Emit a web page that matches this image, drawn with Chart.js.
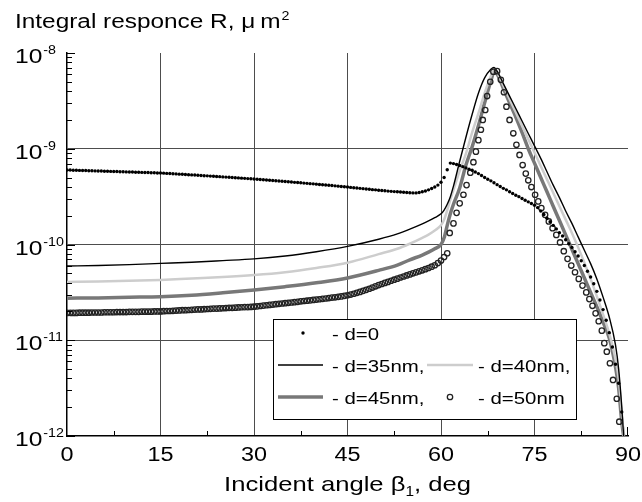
<!DOCTYPE html>
<html lang="en">
<head>
<meta charset="UTF-8">
<title>Integral responce R</title>
<script src="https://cdn.jsdelivr.net/npm/chart.js"></script>
<style>
    html, body {
        margin: 0;
        padding: 0;
        background: #fff;
    }
    #wrap {
        width: 642px;
        height: 502px;
    }
</style>
</head>
<body>
<div id="wrap"><canvas id="respChart" width="642" height="502"></canvas></div>
<script>
    // axis ticks
    const decadeTicks = [1e-12, 1e-11, 1e-10, 1e-9, 1e-8];
    const decadeExp = ['-12', '-11', '-10', '-9', '-8'];
    const angleTicks = [0, 15, 30, 45, 60, 75, 90];

    // d=0 is sampled every 0.5 deg from 0 to 89
    const angleDots = [];
    for (let a = 0; a <= 89; a += 0.5) angleDots.push(a);

    const resp0 = [
        6.00e-10, 5.99e-10, 5.97e-10, 5.96e-10, 5.94e-10, 5.93e-10, 5.92e-10, 5.90e-10, 5.89e-10, 5.87e-10,
        5.86e-10, 5.85e-10, 5.83e-10, 5.82e-10, 5.80e-10, 5.79e-10, 5.78e-10, 5.76e-10, 5.75e-10, 5.73e-10,
        5.72e-10, 5.71e-10, 5.69e-10, 5.68e-10, 5.66e-10, 5.65e-10, 5.64e-10, 5.62e-10, 5.61e-10, 5.59e-10,
        5.58e-10,
        5.56e-10, 5.53e-10, 5.51e-10, 5.48e-10, 5.46e-10, 5.43e-10, 5.41e-10, 5.38e-10, 5.36e-10, 5.33e-10,
        5.31e-10, 5.28e-10, 5.26e-10, 5.23e-10, 5.21e-10, 5.18e-10, 5.16e-10, 5.13e-10, 5.11e-10, 5.08e-10,
        5.06e-10, 5.03e-10, 5.01e-10, 4.98e-10, 4.96e-10, 4.93e-10, 4.91e-10, 4.88e-10, 4.86e-10, 4.83e-10,
        4.80e-10, 4.77e-10, 4.75e-10, 4.72e-10, 4.69e-10, 4.66e-10, 4.63e-10, 4.60e-10, 4.58e-10, 4.55e-10,
        4.52e-10, 4.49e-10, 4.46e-10, 4.44e-10, 4.41e-10, 4.38e-10, 4.35e-10, 4.32e-10, 4.30e-10, 4.27e-10,
        4.24e-10, 4.21e-10, 4.18e-10, 4.16e-10, 4.13e-10, 4.10e-10, 4.07e-10, 4.04e-10, 4.01e-10, 3.98e-10,
        3.95e-10, 3.92e-10, 3.89e-10, 3.86e-10, 3.83e-10, 3.80e-10, 3.77e-10, 3.74e-10, 3.72e-10, 3.69e-10,
        3.66e-10, 3.64e-10, 3.61e-10, 3.59e-10, 3.57e-10, 3.55e-10, 3.53e-10, 3.51e-10, 3.49e-10, 3.47e-10,
        3.46e-10, 3.46e-10, 3.49e-10, 3.55e-10, 3.62e-10, 3.72e-10, 3.85e-10, 3.98e-10, 4.17e-10, 4.47e-10,
        5.01e-10,
        6.03e-10, 7.08e-10, 7.00e-10, 6.84e-10, 6.68e-10, 6.50e-10, 6.31e-10, 6.12e-10, 5.96e-10, 5.71e-10,
        5.50e-10, 5.25e-10, 5.01e-10, 4.81e-10, 4.62e-10, 4.42e-10, 4.22e-10, 4.04e-10, 3.86e-10,
        3.72e-10, 3.55e-10, 3.41e-10, 3.27e-10, 3.16e-10, 3.02e-10, 2.90e-10, 2.79e-10, 2.68e-10, 2.57e-10,
        2.43e-10, 2.24e-10, 2.06e-10, 1.88e-10, 1.73e-10, 1.585e-10, 1.455e-10, 1.33e-10, 1.225e-10, 1.12e-10,
        1.02e-10, 9.33e-11, 8.41e-11, 7.59e-11, 6.76e-11, 6.03e-11, 5.25e-11, 4.57e-11, 3.89e-11, 3.24e-11,
        2.63e-11, 2.09e-11, 1.62e-11, 1.20e-11, 8.51e-12, 5.62e-12, 3.55e-12, 1.78e-12
    ];

    // d=50nm: flat branch on the same 0.5 deg grid (0..61), then the peak
    const resp50Flat = [
        1.93e-11, 1.93e-11, 1.93e-11, 1.93e-11, 1.94e-11, 1.94e-11, 1.94e-11, 1.94e-11, 1.95e-11, 1.95e-11,
        1.95e-11, 1.95e-11, 1.96e-11, 1.96e-11, 1.96e-11, 1.96e-11, 1.97e-11, 1.97e-11, 1.97e-11, 1.97e-11,
        1.98e-11, 1.98e-11, 1.98e-11, 1.98e-11, 1.99e-11, 1.99e-11, 1.99e-11, 1.99e-11, 2.00e-11, 2.00e-11,
        2.00e-11,
        2.01e-11, 2.02e-11, 2.02e-11, 2.03e-11, 2.04e-11, 2.05e-11, 2.06e-11, 2.06e-11, 2.07e-11, 2.08e-11,
        2.09e-11, 2.10e-11, 2.10e-11, 2.11e-11, 2.12e-11, 2.13e-11, 2.14e-11, 2.14e-11, 2.15e-11, 2.16e-11,
        2.17e-11, 2.18e-11, 2.18e-11, 2.19e-11, 2.20e-11, 2.21e-11, 2.22e-11, 2.22e-11, 2.23e-11, 2.24e-11,
        2.26e-11, 2.28e-11, 2.30e-11, 2.32e-11, 2.34e-11, 2.36e-11, 2.38e-11, 2.40e-11, 2.42e-11, 2.44e-11,
        2.46e-11, 2.48e-11, 2.50e-11, 2.52e-11, 2.55e-11, 2.57e-11, 2.59e-11, 2.61e-11, 2.64e-11, 2.66e-11,
        2.68e-11, 2.71e-11, 2.73e-11, 2.76e-11, 2.79e-11, 2.81e-11, 2.84e-11, 2.87e-11, 2.91e-11, 2.95e-11,
        3.00e-11, 3.06e-11, 3.13e-11, 3.20e-11, 3.28e-11, 3.36e-11, 3.45e-11, 3.55e-11, 3.66e-11, 3.77e-11,
        3.87e-11, 3.97e-11, 4.07e-11, 4.18e-11, 4.29e-11, 4.40e-11, 4.52e-11, 4.63e-11, 4.75e-11, 4.87e-11,
        5.00e-11, 5.12e-11, 5.25e-11, 5.38e-11, 5.52e-11, 5.68e-11, 5.86e-11, 6.07e-11, 6.40e-11, 6.80e-11,
        7.40e-11, 8.10e-11
    ];
    const angle50Peak = [
        61.4, 62.0, 62.5, 63.0, 63.6, 64.1, 64.7, 65.2, 65.6, 66.0, 66.4, 66.7, 67.1, 67.4, 67.9, 68.4,
        69.0, 69.6, 70.1, 70.5, 71.0, 71.6, 72.1, 72.6, 73.1, 73.6, 74.0, 74.5, 75.1, 75.6, 76.1, 76.7,
        77.3, 77.9, 78.5, 79.1, 79.7, 80.3, 80.9, 81.5, 82.1, 82.7, 83.3, 83.8, 84.3, 84.8, 85.3, 85.8,
        86.2, 86.6, 87.1, 87.6, 88.2, 88.6
    ];
    const resp50Peak = [
        1.32e-10, 1.66e-10, 2.14e-10, 2.69e-10, 3.31e-10, 4.17e-10, 5.62e-10, 7.24e-10, 9.33e-10, 1.23e-9,
        1.58e-9, 2.00e-9, 2.54e-9, 3.55e-9, 5.01e-9, 6.38e-9,
        6.46e-9, 5.25e-9, 3.89e-9, 2.75e-9, 2.00e-9, 1.45e-9, 1.10e-9, 8.61e-10, 6.76e-10, 5.50e-10,
        4.68e-10, 3.98e-10, 3.31e-10, 2.82e-10, 2.40e-10, 2.04e-10, 1.74e-10, 1.48e-10, 1.26e-10, 1.05e-10,
        8.51e-11, 7.08e-11, 6.03e-11, 5.13e-11, 4.37e-11, 3.72e-11, 3.16e-11, 2.69e-11, 2.29e-11, 1.91e-11,
        1.58e-11, 1.26e-11, 9.33e-12, 7.59e-12, 5.75e-12, 3.85e-12, 2.45e-12, 1.41e-12
    ];

    // solid curves d=35, 40, 45 nm
    const angleLine = [
        0, 5, 10, 15, 20, 25, 30, 35, 40, 45, 50, 53, 55, 57, 58, 59, 60, 60.5, 61, 61.5, 62,
        63, 64, 65, 66, 67, 68, 68.5, 69, 70, 71, 72, 73, 74, 75, 76, 77, 78, 79, 80,
        81, 82, 83, 84, 85, 86, 87, 88, 88.5, 89, 89.3
    ];
    const resp35 = [
        5.96e-11, 6.03e-11, 6.17e-11, 6.35e-11, 6.53e-11, 6.79e-11, 7.08e-11, 7.59e-11, 8.41e-11, 9.55e-11,
        1.135e-10, 1.29e-10, 1.445e-10, 1.64e-10, 1.76e-10, 1.905e-10, 2.09e-10, 2.29e-10, 2.63e-10, 3.16e-10,
        4.07e-10, 7.41e-10, 1.32e-9, 2.29e-9, 3.80e-9, 5.50e-9, 6.76e-9, 7.08e-9, 6.46e-9, 4.79e-9,
        3.55e-9, 2.63e-9, 1.95e-9, 1.445e-9, 1.07e-9, 7.94e-10, 5.75e-10, 4.17e-10, 3.09e-10, 2.24e-10,
        1.66e-10, 1.20e-10, 8.71e-11, 6.31e-11, 4.37e-11, 2.82e-11, 1.74e-11, 8.9e-12, 5.0e-12, 2.0e-12,
        1.0e-12
    ];
    const resp40 = [
        4.07e-11, 4.10e-11, 4.17e-11, 4.27e-11, 4.42e-11, 4.57e-11, 4.79e-11, 5.13e-11, 5.69e-11, 6.46e-11,
        7.94e-11, 9.02e-11, 1.02e-10, 1.175e-10, 1.27e-10, 1.40e-10, 1.585e-10, 1.82e-10, 2.29e-10, 2.95e-10,
        3.72e-10, 5.89e-10, 8.91e-10, 1.48e-9, 2.34e-9, 3.80e-9, 5.75e-9, 6.61e-9, 6.31e-9, 4.57e-9,
        3.31e-9, 2.40e-9, 1.74e-9, 1.26e-9, 9.12e-10, 6.61e-10, 4.79e-10, 3.47e-10, 2.51e-10, 1.82e-10,
        1.32e-10, 9.33e-11, 6.46e-11, 4.37e-11, 2.88e-11, 1.86e-11, 1.175e-11, 6.31e-12, 3.98e-12, 1.78e-12,
        1.0e-12
    ];
    const resp45 = [
        2.75e-11, 2.77e-11, 2.81e-11, 2.85e-11, 2.95e-11, 3.13e-11, 3.35e-11, 3.63e-11, 3.98e-11, 4.47e-11,
        5.37e-11, 6.10e-11, 6.92e-11, 7.76e-11, 8.32e-11, 9.02e-11, 1.0e-10, 1.175e-10, 1.585e-10, 2.09e-10,
        2.63e-10, 3.89e-10, 6.76e-10, 1.05e-9, 1.74e-9, 3.02e-9, 5.13e-9, 6.31e-9, 6.03e-9, 4.27e-9,
        3.02e-9, 2.14e-9, 1.48e-9, 1.0e-9, 7.08e-10, 5.01e-10, 3.55e-10, 2.51e-10, 1.78e-10, 1.26e-10,
        8.91e-11, 6.31e-11, 4.47e-11, 3.16e-11, 2.24e-11, 1.55e-11, 1.05e-11, 5.25e-12, 3.16e-12, 1.41e-12,
        1.0e-12
    ];

    function toPoints(xs, ys) {
        return ys.map((v, i) => ({ x: xs[i], y: v }));
    }

    const FONT = '"Liberation Sans", Arial, Helvetica, sans-serif';

    // text is drawn a bit wider than the font's natural width
    function wideText(ctx, text, x, y, size, sx, align) {
        ctx.save();
        ctx.font = size + 'px ' + FONT;
        const w = ctx.measureText(text).width * sx;
        let left = x;
        if (align === 'center') left = x - w / 2;
        if (align === 'right') left = x - w;
        ctx.translate(left, y);
        ctx.scale(sx, 1);
        ctx.textAlign = 'left';
        ctx.textBaseline = 'alphabetic';
        ctx.fillText(text, 0, 0);
        ctx.restore();
        return w;
    }
    function textWidth(ctx, text, size, sx) {
        ctx.save();
        ctx.font = size + 'px ' + FONT;
        const w = ctx.measureText(text).width * sx;
        ctx.restore();
        return w;
    }

    const axisDecor = {
        id: 'axisDecor',
        afterDraw(chart) {
            const { ctx, chartArea } = chart;
            const xs = chart.scales.x, ys = chart.scales.y;
            ctx.save();
            ctx.fillStyle = '#000';
            ctx.strokeStyle = '#000';
            ctx.lineWidth = 1;

            // inward ticks on the log axis
            ctx.beginPath();
            decadeTicks.forEach((d, i) => {
                const yd = Math.round(ys.getPixelForValue(d)) + 0.5;
                ctx.moveTo(chartArea.left, yd);
                ctx.lineTo(chartArea.left + 8, yd);
                if (i < decadeTicks.length - 1) {
                    for (let m = 2; m <= 9; m++) {
                        const ym = Math.round(ys.getPixelForValue(m * d)) + 0.5;
                        ctx.moveTo(chartArea.left, ym);
                        ctx.lineTo(chartArea.left + 5, ym);
                    }
                }
            });
            // inward ticks on the angle axis
            for (let a = 7.5; a < 90; a += 15) {
                const xa = Math.round(xs.getPixelForValue(a)) + 0.5;
                ctx.moveTo(xa, chartArea.bottom);
                ctx.lineTo(xa, chartArea.bottom - 5);
            }
            const x90 = Math.round(xs.getPixelForValue(90)) - 0.5;
            ctx.moveTo(x90, chartArea.bottom);
            ctx.lineTo(x90, chartArea.bottom - 9);
            ctx.stroke();

            // y tick labels 10^n
            decadeTicks.forEach((d, i) => {
                const yd = ys.getPixelForValue(d);
                const w = wideText(ctx, '10', 15, yd + 10, 20.5, 1.2, 'left');
                wideText(ctx, decadeExp[i], 15 + w + 1, yd + 1, 13, 1.1, 'left');
            });

            // x tick labels
            angleTicks.forEach(a => {
                wideText(ctx, String(a), xs.getPixelForValue(a), 461, 19.5, 1.2, 'center');
            });

            // y title
            const tw = wideText(ctx, 'Integral responce R, \u03bc\u2009m', 15, 28, 19.5, 1.25, 'left');
            wideText(ctx, '2', 15 + tw + 1, 20, 13, 1.1, 'left');

            // x title with subscript
            const p1 = 'Incident angle \u03b2', p2 = '1', p3 = ', deg';
            const w1 = textWidth(ctx, p1, 21, 1.22);
            const w2 = textWidth(ctx, p2, 14, 1.1);
            const w3 = textWidth(ctx, p3, 21, 1.22);
            let xt = (chartArea.left + chartArea.right) / 2 - (w1 + w2 + w3) / 2;
            wideText(ctx, p1, xt, 491, 21, 1.22, 'left');
            xt += w1;
            wideText(ctx, p2, xt, 496, 14, 1.1, 'left');
            xt += w2;
            wideText(ctx, p3, xt, 491, 21, 1.22, 'left');

            // legend box
            ctx.fillStyle = '#fff';
            ctx.fillRect(273, 319, 303, 100);
            ctx.strokeStyle = '#000';
            ctx.lineWidth = 1;
            ctx.strokeRect(273.5, 319.5, 303, 100);

            ctx.fillStyle = '#000';
            ctx.beginPath();
            ctx.arc(303, 333, 1.7, 0, Math.PI * 2);
            ctx.fill();
            wideText(ctx, '- d=0', 332, 340, 17, 1.2, 'left');

            ctx.lineCap = 'butt';
            ctx.strokeStyle = '#000';
            ctx.lineWidth = 1.4;
            ctx.beginPath(); ctx.moveTo(278, 365); ctx.lineTo(323, 365); ctx.stroke();
            wideText(ctx, '- d=35nm,', 332, 372, 17, 1.2, 'left');

            ctx.strokeStyle = '#cdcdcd';
            ctx.lineWidth = 2.5;
            ctx.beginPath(); ctx.moveTo(427, 365); ctx.lineTo(473, 365); ctx.stroke();
            wideText(ctx, '- d=40nm,', 478, 372, 17, 1.2, 'left');

            ctx.strokeStyle = '#787878';
            ctx.lineWidth = 3.5;
            ctx.beginPath(); ctx.moveTo(278, 397); ctx.lineTo(323, 397); ctx.stroke();
            wideText(ctx, '- d=45nm,', 332, 404, 17, 1.2, 'left');

            ctx.strokeStyle = '#222';
            ctx.lineWidth = 1.3;
            ctx.beginPath();
            ctx.arc(450, 397, 2.7, 0, Math.PI * 2);
            ctx.stroke();
            wideText(ctx, '- d=50nm', 478, 404, 17, 1.2, 'left');

            ctx.restore();
        }
    };

    const gridColor = '#4d4d4d';

    const ctx = document.getElementById('respChart').getContext('2d');
    const respChart = new Chart(ctx, {
        type: 'scatter',
        data: {
            datasets: [
                {
                    label: '- d=0',
                    data: toPoints(angleDots, resp0),
                    showLine: false,
                    pointRadius: 1.7,
                    pointBackgroundColor: '#000',
                    pointBorderColor: '#000',
                    pointBorderWidth: 0,
                    order: 0
                },
                {
                    label: '- d=50nm',
                    data: toPoints(angleDots, resp50Flat).concat(toPoints(angle50Peak, resp50Peak)),
                    showLine: false,
                    pointRadius: 2.7,
                    pointBackgroundColor: 'rgba(255,255,255,0)',
                    pointBorderColor: '#222',
                    pointBorderWidth: 1.3,
                    order: 1
                },
                {
                    label: '- d=35nm,',
                    data: toPoints(angleLine, resp35),
                    showLine: true,
                    borderColor: '#000',
                    borderWidth: 1.4,
                    pointRadius: 0,
                    cubicInterpolationMode: 'monotone',
                    order: 2
                },
                {
                    label: '- d=40nm,',
                    data: toPoints(angleLine, resp40),
                    showLine: true,
                    borderColor: '#cdcdcd',
                    borderWidth: 2.5,
                    pointRadius: 0,
                    cubicInterpolationMode: 'monotone',
                    order: 3
                },
                {
                    label: '- d=45nm,',
                    data: toPoints(angleLine, resp45),
                    showLine: true,
                    borderColor: '#787878',
                    borderWidth: 3.5,
                    pointRadius: 0,
                    cubicInterpolationMode: 'monotone',
                    order: 4
                }
            ]
        },
        options: {
            responsive: false,
            animation: false,
            events: [],
            layout: {
                padding: { left: 67, right: 14, top: 53, bottom: 66 }
            },
            plugins: {
                legend: { display: false },
                tooltip: { enabled: false },
                title: { display: false }
            },
            scales: {
                x: {
                    type: 'linear',
                    min: 0,
                    max: 90,
                    afterBuildTicks: (scale) => {
                        scale.ticks = angleTicks.map(v => ({ value: v }));
                    },
                    afterFit: (scale) => { scale.height = 0; },
                    ticks: { display: false },
                    grid: {
                        drawTicks: false,
                        lineWidth: 1,
                        color: (c) => (c.tick && (c.tick.value === 0 || c.tick.value === 90)) ? 'rgba(0,0,0,0)' : gridColor
                    },
                    border: { display: true, color: '#000', width: 1.5 }
                },
                y: {
                    type: 'logarithmic',
                    min: 1e-12,
                    max: 1e-8,
                    afterBuildTicks: (scale) => {
                        scale.ticks = decadeTicks.map(v => ({ value: v }));
                    },
                    afterFit: (scale) => { scale.width = 0; },
                    ticks: { display: false },
                    grid: {
                        drawTicks: false,
                        lineWidth: 1,
                        color: (c) => (c.tick && (c.tick.value === 1e-12 || c.tick.value === 1e-8)) ? 'rgba(0,0,0,0)' : gridColor
                    },
                    border: { display: true, color: '#000', width: 1.5 }
                }
            }
        },
        plugins: [axisDecor]
    });
</script>
</body>
</html>
